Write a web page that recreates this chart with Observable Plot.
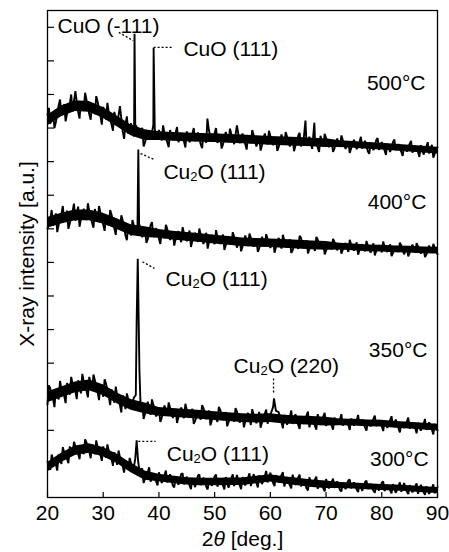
<!DOCTYPE html>
<html>
<head>
<meta charset="utf-8">
<script src="https://cdn.jsdelivr.net/npm/d3@7"></script>
<script src="https://cdn.jsdelivr.net/npm/@observablehq/plot@0.6"></script>
<style>
html,body{margin:0;padding:0;background:#fff;}
svg{display:block;}
</style>
</head>
<body>
<div id="chart"></div>
<script>
// 2θ sampling grid (deg.)
const twoTheta = d3.range(20, 90.001, 0.5);

// intensity (a.u., stacked offsets included; 10 units per y tick)
const int500 = [
114.0,111.3,114.5,111.8,116.7,113.9,117.1,114.2,117.2,115.0,
121.0,114.8,118.0,115.4,118.4,114.1,117.3,114.1,117.8,113.6,
116.3,112.5,114.7,111.0,114.8,110.9,116.5,109.0,111.2,108.3,
111.4,107.5,110.4,107.4,110.1,105.7,109.1,106.6,111.0,106.6,
109.4,106.3,108.5,105.8,109.4,106.5,108.7,105.8,108.2,106.0,
109.0,105.8,108.3,106.1,108.7,105.2,108.1,105.6,109.1,105.9,
108.5,105.6,107.9,105.2,108.8,105.9,108.2,105.2,110.8,105.5,
108.4,105.2,107.7,105.5,108.0,104.5,107.4,104.9,108.4,105.1,
107.7,104.9,107.1,104.4,108.1,105.1,107.4,104.5,106.9,104.7,
107.7,104.5,107.0,104.8,107.4,103.8,106.8,104.2,107.7,104.4,
107.0,104.3,106.2,103.9,106.9,104.4,106.4,103.8,105.9,104.0,
106.5,103.7,105.9,103.9,106.2,103.1,105.7,103.4,106.4,103.5,
105.8,103.3,105.2,102.9,105.8,103.4,105.2,102.9,104.8,103.0,
105.3,102.7,104.7,102.9,104.9,102.1,104.4,102.4,105.0,102.4,104.3];

const int400 = [
80.0,83.0,80.9,84.6,81.1,84.4,82.1,85.4,81.6,85.2,
82.4,86.6,82.9,86.0,82.6,85.2,81.8,85.9,82.3,84.8,
81.2,83.7,81.0,84.2,80.1,82.8,79.8,82.5,78.0,81.2,
78.0,81.0,78.5,81.3,77.5,80.2,76.9,81.1,77.6,80.2,
77.1,79.2,77.2,79.9,76.7,79.1,76.9,79.3,76.0,78.7,
76.3,79.5,76.4,78.8,76.1,78.2,75.5,78.8,76.1,78.2,
75.4,77.5,75.5,78.3,75.1,77.5,75.3,77.7,74.4,77.1,
74.7,78.0,74.9,77.3,74.7,76.8,74.2,77.6,74.8,77.0,
74.3,76.4,74.5,77.3,74.1,76.6,74.4,76.9,73.6,76.3,
74.0,77.3,74.2,76.6,73.9,76.1,73.4,76.8,74.1,76.2,
73.5,75.5,73.9,76.1,73.6,75.6,73.8,75.8,73.1,75.3,
73.5,76.0,73.6,75.4,73.3,75.0,72.9,75.7,73.4,75.1,
73.0,74.7,73.1,75.4,72.8,74.8,73.1,75.0,72.4,74.6,
72.8,75.3,72.9,74.8,72.6,74.4,72.3,75.0,72.8,74.5,72.4];

const int350 = [
27.8,32.4,29.3,32.3,29.2,32.3,30.2,34.1,30.6,33.9,
31.6,34.9,31.0,34.6,31.8,35.9,32.0,34.9,31.3,33.6,
30.0,33.9,30.1,32.2,28.2,30.5,27.5,30.5,26.3,29.2,
26.4,29.7,52.0,38.0,28.1,24.9,28.5,24.6,27.6,24.1,
26.7,23.7,27.4,24.4,26.7,23.7,26.1,23.9,26.8,23.6,
26.1,23.8,26.4,22.8,25.7,23.2,26.6,23.3,25.9,23.0,
25.2,22.5,26.1,23.1,25.4,22.4,24.8,22.6,25.6,22.3,
24.8,22.6,25.2,21.6,24.6,22.1,25.5,22.3,24.9,22.0,
24.6,27.0,25.8,25.4,22.4,24.6,21.7,24.0,21.9,24.8,
21.6,24.1,21.9,24.5,20.9,23.9,21.3,24.8,21.6,24.1,
21.3,23.4,21.4,23.8,21.9,23.3,21.4,23.0,21.5,23.5,
21.4,23.0,21.5,23.2,20.9,22.8,21.2,23.4,21.3,23.0,
21.2,22.7,20.7,23.1,21.1,23.2,20.6,22.1,20.7,22.6,
20.5,22.1,20.6,22.2,19.9,21.8,20.1,22.4,20.2,21.9,20.0];

const int300 = [
10.7,8.2,11.3,9.8,12.8,10.0,13.3,11.5,15.2,12.6,
15.3,13.0,15.4,12.9,16.4,13.7,15.8,12.9,14.9,12.7,
15.2,11.8,13.9,11.4,13.5,9.7,12.0,9.2,11.1,8.3,
10.2,9.0,17.0,8.0,8.6,5.6,7.5,4.7,6.8,4.8,
7.5,4.3,6.7,4.5,6.9,3.5,6.2,3.8,7.0,3.9,
6.2,3.6,5.7,3.1,6.5,3.7,5.9,3.2,5.4,3.5,
6.3,3.2,5.7,3.6,6.1,2.9,5.7,3.4,6.7,3.7,
6.1,3.6,5.9,3.4,6.9,4.3,6.6,4.0,6.3,4.5,
7.4,4.3,6.7,4.5,6.7,3.3,6.0,3.6,6.8,3.7,
6.0,3.3,5.4,2.7,6.0,3.2,5.4,2.6,4.7,2.8,
5.5,2.7,4.6,2.9,4.8,2.2,4.4,2.5,5.1,2.7,
4.5,2.4,4.1,2.0,4.6,2.5,4.1,2.0,3.7,2.1,
4.4,1.9,3.8,2.1,4.0,1.4,3.5,1.7,4.3,1.8,
3.7,1.5,3.3,1.1,3.8,1.6,3.3,1.1,2.8,1.2,3.1];

// sharp diffraction peaks [2θ, intensity]
const peaks500 = [[35.55,112],[35.62,138.1],[35.75,111],[38.9,110],[39.05,133.9],[39.25,110],[48.7,112.8],[66.3,112.2],[67.9,111.6]];
const peaks400 = [[36.15,80],[36.3,103.6],[36.45,80]];
const peaks350 = [[35.85,30.5],[36.2,71.1],[36.7,27.5],[60.65,29.5]];
const peaks300 = [[35.75,11.5],[36.25,11.0]];

// isolated noise spikes [2θ, intensity]
const spikes500 = [[20.25,116.0],[21.25,110.0],[22.25,118.5],[23.25,112.0],[24.25,120.0],[25.75,112.8],[26.75,120.5],[27.75,112.5],[28.75,119.5],[29.75,111.0],[30.75,117.5],[31.75,109.2],[33.75,106.8],[34.25,113.5],[37.25,104.5],[40.75,110.8],[41.75,104.3],[43.25,110.3],[44.75,104.2],[46.25,110.0],[47.75,104.0],[50.25,110.0],[51.25,103.9],[52.75,109.8],[55.75,103.6],[56.75,109.4],[58.25,103.3],[59.75,109.2],[61.25,103.2],[62.75,108.8],[64.25,103.1],[65.25,108.6],[68.75,102.9],[69.75,108.3],[71.25,102.9],[72.75,107.8],[74.25,102.6],[76.25,107.4],[77.75,102.3],[79.25,107.0],[80.75,102.0],[82.25,106.6],[83.75,101.7],[85.25,106.2],[86.75,101.4],[88.25,105.8],[89.25,101.2]];
const spikes400 = [[20.75,85.6],[21.75,79.0],[22.75,86.8],[23.75,80.0],[24.75,87.5],[25.75,80.6],[27.25,87.6],[28.25,80.3],[29.25,86.8],[30.25,79.4],[31.25,85.6],[32.25,78.2],[33.25,84.0],[34.25,76.6],[35.25,82.6],[37.75,75.8],[38.75,82.0],[40.25,75.5],[41.25,81.2],[42.75,75.0],[44.25,80.5],[45.75,74.6],[47.25,80.1],[48.75,74.1],[50.25,79.6],[51.75,73.7],[53.25,79.0],[54.75,73.3],[56.25,78.6],[57.75,73.1],[59.25,78.4],[60.75,72.9],[62.25,78.2],[63.75,72.8],[65.25,77.9],[66.75,72.7],[68.25,77.6],[69.75,72.4],[71.25,77.0],[72.75,72.6],[74.25,76.7],[75.75,72.3],[77.25,76.4],[78.75,72.1],[80.25,76.2],[81.75,71.9],[83.25,75.9],[84.75,71.8],[86.25,75.7],[87.75,71.6],[89.25,75.5]];
const spikes350 = [[20.25,33.4],[21.25,26.9],[22.25,34.7],[23.25,28.1],[24.25,35.9],[25.25,29.3],[26.25,36.8],[27.25,29.8],[28.25,36.6],[29.25,29.0],[30.25,35.2],[31.25,27.5],[32.25,33.0],[33.25,25.3],[34.25,31.0],[37.25,23.4],[38.75,29.2],[40.25,22.5],[41.75,28.3],[43.25,22.2],[44.75,27.9],[46.25,21.9],[47.75,27.5],[49.25,21.5],[50.75,27.0],[52.25,21.2],[53.75,26.6],[55.25,20.9],[56.75,26.3],[58.25,20.8],[59.25,26.2],[62.25,20.6],[63.75,25.9],[65.25,20.4],[66.75,25.6],[68.25,20.2],[69.75,25.2],[71.25,20.2],[72.75,24.8],[74.25,20.1],[75.75,24.6],[77.25,19.9],[78.75,24.4],[80.25,19.8],[81.75,24.2],[83.25,19.4],[84.75,23.8],[86.25,19.1],[87.75,23.4],[89.25,18.8]];
const spikes300 = [[20.75,12.8],[21.75,8.0],[22.75,15.0],[23.75,10.2],[24.75,16.6],[25.75,11.4],[26.75,17.3],[27.75,11.7],[28.75,17.0],[29.75,10.9],[30.75,15.8],[31.75,9.4],[32.75,14.0],[33.75,7.4],[34.75,11.8],[37.25,4.3],[38.25,9.0],[39.75,3.6],[41.25,8.0],[42.75,3.0],[44.25,7.2],[45.75,2.5],[47.25,6.9],[48.75,2.4],[50.25,6.8],[51.75,2.4],[53.25,6.9],[54.75,2.5],[56.25,7.2],[57.75,3.0],[59.25,7.9],[60.75,3.4],[62.25,7.5],[63.75,2.7],[65.25,6.8],[66.75,2.1],[68.25,6.2],[69.75,1.8],[71.25,5.6],[72.75,1.8],[74.25,5.3],[75.75,1.6],[77.25,5.0],[78.75,1.4],[80.25,4.8],[81.75,1.2],[83.25,4.5],[84.75,1.0],[86.25,4.2],[87.75,0.8],[89.25,3.9]];

// dense noise band (solid core) edges, every 2.5°
const bandTheta = d3.range(20, 90.001, 2.5);
const lo500 = [110.6,113.4,114.9,114.7,112.9,110.4,107.7,106.3,106.3,106.1,105.9,105.8,105.7,105.5,105.3,105.1,104.9,104.7,104.6,104.4,104.2,104.2,104.0,103.7,103.5,103.2,102.9,102.6,102.3];
const hi500 = [113.8,116.6,118.1,117.9,116.1,113.6,110.9,109.5,108.9,108.7,108.5,108.4,108.3,108.1,107.9,107.7,107.5,107.3,107.2,107.0,106.8,106.2,106.0,105.7,105.5,105.2,104.9,104.6,104.3];
const lo400 = [80.2,81.4,82.4,82.4,81.4,79.8,78.0,77.4,77.2,76.7,76.3,75.9,75.5,75.1,74.7,74.5,74.4,74.2,74.0,73.8,73.6,73.7,73.5,73.2,73.1,72.9,72.8,72.6,72.5];
const hi400 = [83.4,84.6,85.6,85.6,84.6,83.0,81.2,80.6,79.8,79.3,78.9,78.5,78.1,77.7,77.3,77.1,77.0,76.8,76.6,76.4,76.2,75.7,75.5,75.2,75.1,74.9,74.8,74.6,74.5];
const lo350 = [28.2,29.7,31.2,31.8,30.4,27.9,26.0,24.9,24.2,23.9,23.6,23.3,22.9,22.6,22.3,22.2,22.3,21.9,21.7,21.5,21.3,21.4,21.3,21.1,21.0,20.6,20.4,20.1,19.8];
const hi350 = [31.4,32.9,34.4,35.0,33.6,31.1,29.2,28.1,26.8,26.5,26.2,25.9,25.5,25.2,24.9,24.8,24.9,24.5,24.3,24.1,23.9,23.4,23.3,23.1,23.0,22.6,22.4,22.1,21.8];
const lo300 = [7.6,10.4,12.5,13.2,12.1,10.1,7.4,5.1,4.7,4.2,3.7,3.5,3.5,3.6,3.6,4.1,4.6,4.0,3.5,3.0,2.7,2.7,2.5,2.3,2.1,1.9,1.7,1.4,1.2];
const hi300 = [10.4,13.2,15.3,16.0,14.9,12.9,10.2,7.9,6.9,6.4,5.9,5.7,5.7,5.8,5.8,6.3,6.8,6.2,5.7,5.2,4.9,4.5,4.3,4.1,3.9,3.7,3.5,3.2,3.0];

const xTicks = [20,30,40,50,60,70,80,90];
const yTicks = [10,20,30,40,50,60,70,80,90,100,110,120,130,140];

const peakLabels = [
  {text:"CuO (-111)", x:21.8, y:138.4},
  {text:"CuO (111)",  x:44.4, y:131.5},
  {text:"Cu2O (111)", x:40.8, y:94.9},
  {text:"Cu2O (111)", x:41.2, y:63.1},
  {text:"Cu2O (220)", x:53.4, y:37.2},
  {text:"Cu2O (111)", x:41.4, y:11.0}
];
const tempLabels = [
  {text:"500°C", x:87.85, y:121.4},
  {text:"400°C", x:88.0, y:86.0},
  {text:"350°C", x:88.2, y:41.7},
  {text:"300°C", x:88.4, y:9.5}
];
const leaders = [
  {x1:32.8, y1:138.5, x2:35.38, y2:136.0},
  {x1:39.05, y1:134.0, x2:42.4, y2:134.0},
  {x1:36.7, y1:102.4, x2:39.2, y2:100.6},
  {x1:37.05, y1:70.2, x2:39.2, y2:68.2},
  {x1:60.57, y1:35.4, x2:60.57, y2:31.2},
  {x1:36.3, y1:16.7, x2:39.4, y2:16.7}
];

const series = [
  ["500", int500, peaks500, spikes500, lo500, hi500],
  ["400", int400, peaks400, spikes400, lo400, hi400],
  ["350", int350, peaks350, spikes350, lo350, hi350],
  ["300", int300, peaks300, spikes300, lo300, hi300]
];
const table = [];
const bands = [];
for (const [name, vals, peaks, spikes, lo, hi] of series) {
  const pts = twoTheta.map((x,i) => ({series:name, x, y:vals[i]}));
  for (const [x,y] of peaks) pts.push({series:name, x, y});
  for (const [x,y] of spikes) pts.push({series:name, x, y});
  pts.sort((a,b) => a.x - b.x);
  table.push(...pts);
  bandTheta.forEach((x,i) => bands.push({series:name, x, lo:lo[i], hi:hi[i]}));
}

const FS = 21;
const chart = Plot.plot({
  width: 449, height: 552,
  marginLeft: 47, marginRight: 12, marginTop: 10, marginBottom: 55,
  x: {domain: [20, 90]},
  y: {domain: [0, 145], axis: null},
  style: {fontFamily: "'Liberation Sans', Arial, Helvetica, sans-serif", fontSize: FS + "px", color: "#000", background: "#fff", overflow: "visible"},
  marks: [
    Plot.areaY(bands, {x:"x", y1:"lo", y2:"hi", z:"series", fill:"#000"}),
    Plot.line(table, {x:"x", y:"y", z:"series", stroke:"#000", strokeWidth:1.9, strokeLinejoin:"bevel"}),
    Plot.ruleY(yTicks, {y:d=>d, insetRight:383, strokeWidth:1.2}),
    Plot.ruleX(xTicks, {x:d=>d, insetTop:482, strokeWidth:1.2}),
    Plot.frame({strokeWidth:1.3}),
    Plot.axisX({ticks:xTicks, tickSize:0, tickPadding:8, label:null, fontSize:FS}),
    Plot.link(leaders, {x1:"x1", y1:"y1", x2:"x2", y2:"y2", stroke:"#000", strokeWidth:1.3, strokeDasharray:"2,2"}),
    Plot.text(peakLabels, {x:"x", y:"y", text:"text", textAnchor:"start", lineAnchor:"bottom", fontSize:FS}),
    Plot.text(tempLabels, {x:"x", y:"y", text:"text", textAnchor:"end", lineAnchor:"bottom", fontSize:FS}),
    Plot.text(["2θ [deg.]"], {frameAnchor:"bottom", dy:48, lineAnchor:"bottom", fontSize:FS}),
    Plot.text(["X-ray intensity [a.u.]"], {frameAnchor:"left", dx:-14, rotate:-90, textAnchor:"middle", lineAnchor:"bottom", fontSize:FS})
  ]
});

const NS = "http://www.w3.org/2000/svg";
chart.querySelectorAll("text").forEach(t => {
  const s = t.textContent;
  if (s.startsWith("Cu2O")) {
    t.textContent = "Cu";
    const sub = document.createElementNS(NS, "tspan");
    sub.setAttribute("font-size", "13");
    sub.setAttribute("dy", "2");
    sub.textContent = "2";
    const rest = document.createElementNS(NS, "tspan");
    rest.setAttribute("dy", "-2");
    rest.textContent = s.slice(3);
    t.append(sub, rest);
  } else if (s === "2θ [deg.]") {
    t.textContent = "2";
    const it = document.createElementNS(NS, "tspan");
    it.setAttribute("font-style", "italic");
    it.textContent = "θ";
    t.append(it, " [deg.]");
  }
});
document.getElementById("chart").append(chart);
</script>
</body>
</html>
